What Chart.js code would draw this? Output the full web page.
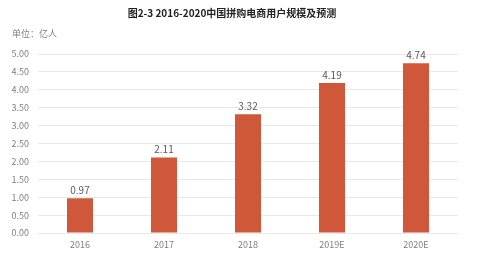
<!DOCTYPE html>
<html>
<head>
<meta charset="utf-8">
<script src="https://cdn.jsdelivr.net/npm/chart.js@4/dist/chart.umd.min.js"></script>
<style>
  html, body { margin: 0; padding: 0; background: #fff; }
  #wrap { width: 500px; height: 254px; position: relative; }
</style>
</head>
<body>
<div id="wrap"><canvas id="chart" width="500" height="254"></canvas></div>
<script>
// Chart data
const years = ['2016', '2017', '2018', '2019E', '2020E'];
const users = [0.97, 2.11, 3.32, 4.19, 4.74];
const chartTitle = '图2-3 2016-2020中国拼购电商用户规模及预测';
const unitLabel = '单位：亿人';

const FONT = '"Noto Sans CJK SC", "Noto Sans", sans-serif';

// title, unit and value labels drawn on the canvas
const textPlugin = {
  id: 'texts',
  afterDatasetsDraw(chart) {
    const ctx = chart.ctx;
    ctx.save();
    ctx.textAlign = 'center';
    ctx.textBaseline = 'middle';
    ctx.fillStyle = '#222';
    ctx.font = 'bold 10px ' + FONT;
    ctx.fillText(chartTitle, 232, 13);

    ctx.textAlign = 'left';
    ctx.fillStyle = '#7f7f7f';
    ctx.font = '9px ' + FONT;
    ctx.fillText(unitLabel, 12, 34);

    const meta = chart.getDatasetMeta(0);
    ctx.textAlign = 'center';
    ctx.textBaseline = 'bottom';
    ctx.fillStyle = '#595959';
    ctx.font = '10px ' + FONT;
    meta.data.forEach((bar, i) => {
      ctx.fillText(users[i].toFixed(2), bar.x, bar.y - 3);
    });
    ctx.restore();
  }
};

new Chart(document.getElementById('chart').getContext('2d'), {
  type: 'bar',
  data: {
    labels: years,
    datasets: [{
      data: users,
      backgroundColor: '#d0583a',
      categoryPercentage: 1,
      barPercentage: 0.31
    }]
  },
  options: {
    responsive: false,
    animation: false,
    layout: { padding: { top: 54, right: 42, left: 0, bottom: 0 } },
    plugins: {
      legend: { display: false },
      tooltip: { enabled: false }
    },
    scales: {
      x: {
        grid: { display: false, drawTicks: false },
        border: { display: false },
        ticks: { color: '#7f7f7f', font: { family: FONT, size: 9 }, padding: 6 },
        afterFit: s => { s.height = 21; }
      },
      y: {
        min: 0,
        max: 5,
        ticks: {
          stepSize: 0.5,
          color: '#7f7f7f',
          padding: 9,
          font: { family: FONT, size: 9 },
          callback: v => v.toFixed(2)
        },
        grid: { color: '#e8e8e8', drawTicks: false },
        border: { display: false },
        afterFit: s => { s.width = 38; }
      }
    }
  },
  plugins: [textPlugin]
});
</script>
</body>
</html>
